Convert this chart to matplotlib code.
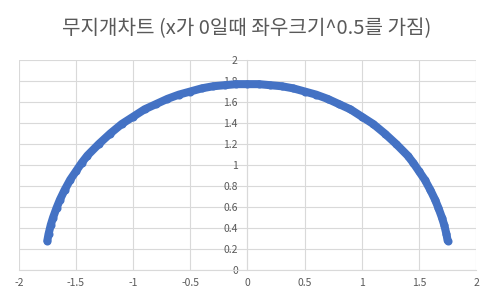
import matplotlib
matplotlib.use("Agg")
import matplotlib.pyplot as plt

plt.rcParams['font.family'] = ['Noto Sans CJK KR', 'DejaVu Sans']

# data (left half, right half mirrors it)
x_left = [-1.75, -1.74, -1.72, -1.70, -1.67, -1.64, -1.60, -1.55, -1.50, -1.45,
          -1.40, -1.30, -1.20, -1.10, -1.00, -0.90, -0.80, -0.70, -0.60, -0.50,
          -0.40, -0.30, -0.20, -0.10]
y_left = [0.28, 0.34, 0.43, 0.50, 0.59, 0.67, 0.76, 0.86, 0.94, 1.02,
          1.09, 1.20, 1.30, 1.39, 1.46, 1.53, 1.58, 1.63, 1.67, 1.70,
          1.73, 1.75, 1.76, 1.77]
x_vals = x_left + [0.0] + [-v for v in reversed(x_left)]
y_vals = y_left + [1.77] + list(reversed(y_left))

x_ticks = [-2, -1.5, -1, -0.5, 0, 0.5, 1, 1.5, 2]
x_labels = ["-2", "-1.5", "-1", "-0.5", "0", "0.5", "1", "1.5", "2"]
y_ticks = [0, 0.2, 0.4, 0.6, 0.8, 1, 1.2, 1.4, 1.6, 1.8, 2]
y_labels = ["0", "0.2", "0.4", "0.6", "0.8", "1", "1.2", "1.4", "1.6", "1.8", "2"]

title = "무지개차트 (x가 0일때 좌우크기^0.5를 가짐)"

blue = "#4472c4"
grid = "#d9d9d9"
text = "#595959"

fig = plt.figure(figsize=(4.94, 3.0), dpi=100)
ax = fig.add_axes([0.038, 0.1, 0.926, 0.7])

ax.plot(x_vals, y_vals, color=blue, lw=5.8, marker='o', ms=5.8, mew=0,
        solid_capstyle='round', solid_joinstyle='round', zorder=3)

ax.set_xlim(-2, 2)
ax.set_ylim(0, 2)
ax.set_xticks(x_ticks)
ax.set_xticklabels(x_labels)
ax.set_yticks(y_ticks)
ax.set_yticklabels(y_labels)
ax.grid(True, color=grid, lw=0.8)
ax.set_axisbelow(True)

for s in ['top', 'right']:
    ax.spines[s].set_visible(False)
ax.spines['left'].set_position(('data', 0))
ax.spines['left'].set_color(grid)
ax.spines['bottom'].set_color(grid)
ax.tick_params(axis='both', length=0, labelsize=7.5, labelcolor=text)
ax.tick_params(axis='y', pad=7)
ax.tick_params(axis='x', pad=6)

fig.text(0.5, 0.905, title, ha='center', va='center', fontsize=14.5, color=text)

fig.savefig("out.png", dpi=100)
